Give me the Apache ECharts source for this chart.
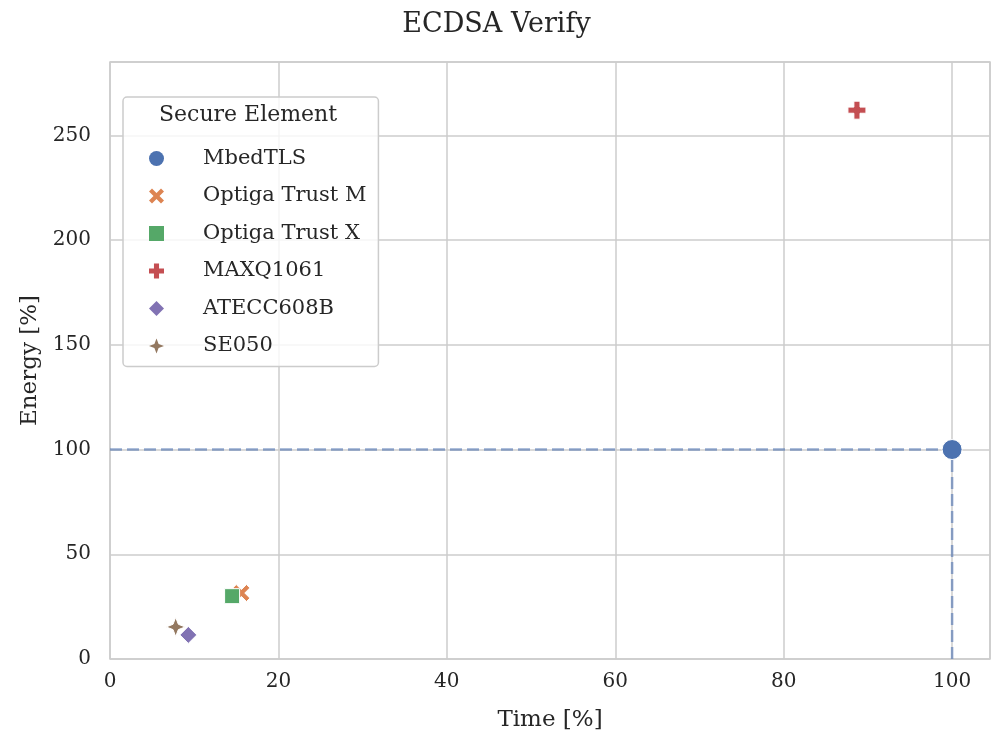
<!DOCTYPE html>
<html>
<head>
<meta charset="utf-8">
<script src="https://cdn.jsdelivr.net/npm/echarts@6/dist/echarts.min.js"></script>
<style>
  html, body { margin: 0; padding: 0; background: #fff; }
  #chart { width: 993px; height: 743px; }
</style>
</head>
<body>
<div id="chart"></div>
<script>
  // data
  var names = ['MbedTLS', 'Optiga Trust M', 'Optiga Trust X', 'MAXQ1061', 'ATECC608B', 'SE050'];
  var timeVals = [100, 15.6, 14.5, 88.7, 9.3, 7.8];
  var energyVals = [100, 31.5, 30, 262, 11.5, 15.3];
  var colors = ['#4c72b0', '#dd8452', '#55a868', '#c44e52', '#8172b3', '#937860'];
  var refH = [[0, 100], [100, 100]];
  var refV = [[100, 0], [100, 100]];

  var symbols = [
    'circle',
    'path://M2,0 L5,3 L8,0 L10,2 L7,5 L10,8 L8,10 L5,7 L2,10 L0,8 L3,5 L0,2 Z',
    'path://M0,0 L10,0 L10,10 L0,10 Z',
    'path://M3.3,0 L6.7,0 L6.7,3.3 L10,3.3 L10,6.7 L6.7,6.7 L6.7,10 L3.3,10 L3.3,6.7 L0,6.7 L0,3.3 L3.3,3.3 Z',
    'path://M5,0 L10,5 L5,10 L0,5 Z',
    'path://M5,0 L6.4,3.6 L10,5 L6.4,6.4 L5,10 L3.6,6.4 L0,5 L3.6,3.6 Z'
  ];
  var sizes = [20, 17, 15, 18, 17, 19];

  var font = '"DejaVu Serif", serif';
  var chart = echarts.init(document.getElementById('chart'));

  var series = [];
  for (var i = 0; i < names.length; i++) {
    series.push({
      name: names[i],
      type: 'scatter',
      data: [[timeVals[i], energyVals[i]]],
      symbol: symbols[i],
      symbolSize: sizes[i],
      z: 5,
      itemStyle: { color: colors[i], borderColor: '#fff', borderWidth: 1, opacity: 1 }
    });
  }
  // dashed reference lines to the MbedTLS baseline
  [refH, refV].forEach(function (d) {
    series.push({
      type: 'line',
      data: d,
      symbol: 'none',
      z: 3,
      silent: true,
      lineStyle: { color: '#4c72b0', opacity: 0.6, width: 2.5, type: [12, 5] }
    });
  });

  chart.setOption({
    animation: false,
    textStyle: { fontFamily: font },
    title: {
      text: 'ECDSA Verify',
      left: 'center',
      top: 6,
      textStyle: { fontFamily: font, fontWeight: 'normal', fontSize: 27, color: '#262626' }
    },
    grid: {
      left: 110, right: 3, top: 62, bottom: 84,
      show: true, borderColor: '#cccccc', borderWidth: 1.5
    },
    xAxis: {
      type: 'value',
      min: 0, max: 104.5, interval: 20,
      name: 'Time [%]',
      nameLocation: 'middle',
      nameGap: 50,
      nameTextStyle: { fontFamily: font, fontSize: 23, color: '#262626' },
      axisLine: { show: false },
      axisTick: { show: false },
      axisLabel: { fontFamily: font, fontSize: 20, color: '#262626', margin: 13, showMaxLabel: false },
      splitLine: { lineStyle: { color: '#cccccc', width: 1.5 } }
    },
    yAxis: {
      type: 'value',
      min: 0, max: 285, interval: 50,
      name: 'Energy [%]',
      nameLocation: 'middle',
      nameGap: 68,
      nameTextStyle: { fontFamily: font, fontSize: 23, color: '#262626' },
      axisLine: { show: false },
      axisTick: { show: false },
      axisLabel: { fontFamily: font, fontSize: 20, color: '#262626', margin: 19, showMaxLabel: false },
      splitLine: { lineStyle: { color: '#cccccc', width: 1.5 } }
    },
    legend: {
      data: names,
      orient: 'vertical',
      left: 123,
      top: 97,
      padding: [51, 12, 10, 26],
      itemWidth: 15,
      itemHeight: 15,
      itemGap: 16.5,
      borderColor: '#cccccc',
      borderWidth: 1.5,
      borderRadius: 4,
      backgroundColor: 'rgba(255,255,255,0.8)',
      itemStyle: { borderWidth: 0 },
      textStyle: { fontFamily: font, fontSize: 21, color: '#262626', padding: [0, 0, 0, 34] }
    },
    graphic: [{
      type: 'text',
      left: 159,
      top: 104,
      z: 100,
      style: { text: 'Secure Element', font: '22px ' + font, fill: '#262626' }
    }],
    series: series
  });
</script>
</body>
</html>
